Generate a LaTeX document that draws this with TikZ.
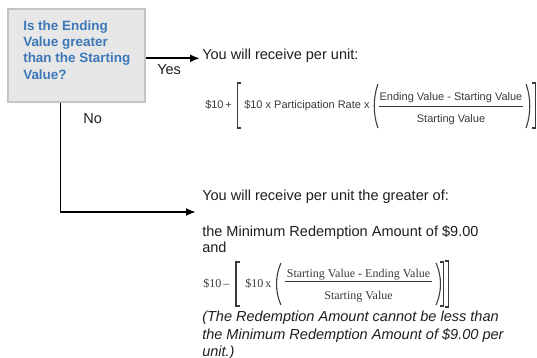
\documentclass[tikz,border=0pt]{standalone}
\usepackage{fontspec}
\setmainfont{Liberation Sans}
\newfontfamily\serifx{Liberation Serif}
\usetikzlibrary{arrows.meta}
\definecolor{qblue}{HTML}{3C78B8}
\definecolor{qfill}{HTML}{E7E7E7}
\definecolor{qedge}{HTML}{C4C4C4}
\definecolor{ink}{HTML}{1E1E1E}
\definecolor{fink}{HTML}{3A3A3A}
\begin{document}
\begin{tikzpicture}[x=0.75pt,y=-0.75pt,
  qbox/.style={draw=qedge, fill=qfill, line width=0.8pt, inner sep=0pt, minimum width=102.75pt, minimum height=69.75pt},
  qtext/.style={text=qblue, font=\fontsize{10.1}{12.15}\selectfont\bfseries, align=left, inner sep=0pt, anchor=north west},
  body/.style={text=ink, font=\fontsize{10.9}{13}\selectfont, inner sep=0pt, anchor=base west},
  note/.style={body, font=\fontsize{10.9}{13}\selectfont\itshape},
  fsans/.style={text=fink, font=\fontsize{8.25}{10}\selectfont, inner sep=0pt},
  fserif/.style={text=fink, font=\serifx\fontsize{9}{11}\selectfont, inner sep=0pt},
  conn/.style={line width=1.4pt, draw=black, -{Latex[length=7.5pt,width=6pt]}},
  brk/.style={line width=0.8pt, draw=fink},
  fbar/.style={line width=0.6pt, draw=fink}
]
\useasboundingbox (0,0) rectangle (537,358);

% question box
\node[qbox] (q) at (76.5,55.5) {};
\node[qtext] (qt) at (23,20.4) {Is the Ending\\Value greater\\than the Starting\\Value?};

% yes branch
\node[body] (y1) at (202,59.5) {You will receive per unit:};
\coordinate (ya) at (200,58.3);
\draw[conn] (q.east |- ya) -- (ya);
\node[body] (yes) at (157,74) {Yes};

% no branch
\node[body] (no) at (83,123) {No};
\coordinate (nb) at (60.5,212);
\coordinate (na) at (196,212);
\draw[conn] (q.south -| nb) -- (nb) -- (na);

% top formula
\node[fsans, anchor=base west] (f1) at (205,108) {\$10\,+};
\draw[brk] (241,83) -- (237.5,83) -- (237.5,128) -- (241,128);
\node[fsans, anchor=base west] (f2) at (244,108) {\$10 x Participation Rate x};
\draw[brk] (378,84) .. controls (373,97) and (373,115) .. (378,128);
\node[fsans, anchor=base] (fn) at (451,100.5) {Ending Value - Starting Value};
\draw[fbar] (379,106) -- (523,106);
\node[fsans, anchor=base] (fd) at (451,122.5) {Starting Value};
\draw[brk] (526,84) .. controls (531,97) and (531,115) .. (526,128);
\draw[brk] (532,83) -- (535.5,83) -- (535.5,128) -- (532,128);

% lower text
\node[body] (n1) at (202,200.5) {You will receive per unit the greater of:};
\node[body] (n2) at (202,236.7) {the Minimum Redemption Amount of \$9.00};
\node[body] (n3) at (202,252.7) {and};

% lower formula
\node[fserif, anchor=base west] (g1) at (203,287) {\$10\,–};
\draw[brk] (240,262) -- (236,262) -- (236,306) -- (240,306);
\node[fserif, anchor=base west] (g2) at (245,287) {\$10\,x};
\draw[brk] (281,263) .. controls (275,276) and (275,292) .. (281,305);
\node[fserif, anchor=base] (gn) at (358.5,277) {Starting Value - Ending Value};
\draw[fbar] (285,281.5) -- (432,281.5);
\node[fserif, anchor=base] (gd) at (358.5,299) {Starting Value};
\draw[brk] (436,263) .. controls (442,276) and (442,292) .. (436,305);
\draw[brk] (440,262) -- (443.5,262) -- (443.5,306) -- (440,306);
\draw[brk] (445,261) -- (448.5,261) -- (448.5,307) -- (445,307);

% note
\node[note] (m1) at (202,321.5) {(The Redemption Amount cannot be less than};
\node[note] (m2) at (202,339) {the Minimum Redemption Amount of \$9.00 per};
\node[note] (m3) at (202,356) {unit.)};
\end{tikzpicture}
\end{document}
